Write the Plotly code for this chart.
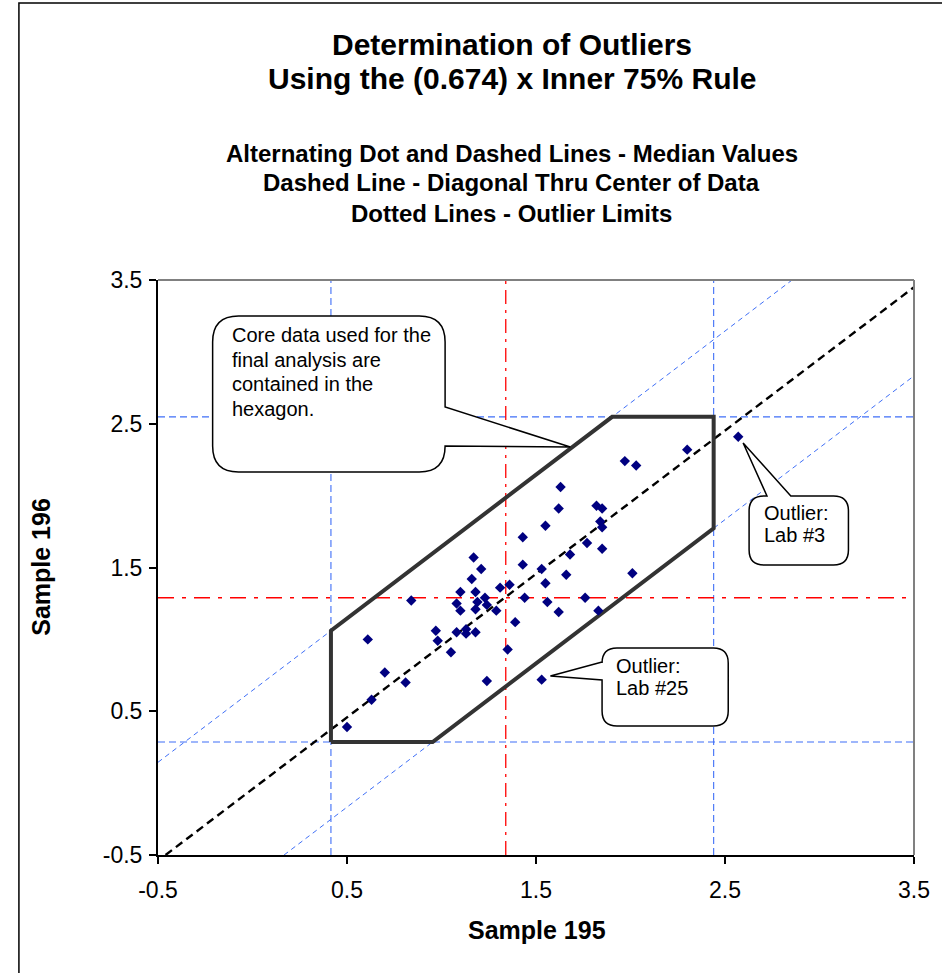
import plotly.graph_objects as go

# ---------------- data ----------------
sample195 = [2.57, 2.30, 1.97, 2.03, 1.63, 1.62, 1.82, 1.85, 1.55, 1.84,
             1.85, 1.43, 1.77, 1.85, 1.68, 1.17, 1.21, 1.43, 1.53, 1.66,
             2.01, 1.16, 1.55, 1.36, 1.31, 1.10, 1.18, 0.84, 1.23, 1.44,
             1.56, 1.76, 1.08, 1.19, 1.24, 1.18, 1.10, 1.29, 1.62, 1.83,
             1.39, 0.97, 1.08, 1.13, 1.13, 1.18, 0.61, 0.98, 1.35, 1.05,
             0.70, 0.81, 1.24, 1.53, 0.63, 0.50]
sample196 = [2.41, 2.32, 2.24, 2.21, 2.06, 1.91, 1.93, 1.91, 1.79, 1.82,
             1.78, 1.71, 1.67, 1.63, 1.59, 1.57, 1.49, 1.52, 1.49, 1.45,
             1.46, 1.42, 1.39, 1.38, 1.36, 1.33, 1.33, 1.27, 1.29, 1.29,
             1.26, 1.29, 1.25, 1.26, 1.24, 1.21, 1.20, 1.20, 1.19, 1.20,
             1.12, 1.06, 1.05, 1.07, 1.04, 1.05, 1.00, 0.99, 0.93, 0.91,
             0.77, 0.70, 0.71, 0.72, 0.58, 0.39]

median_x = 1.34
median_y = 1.29
x_limits = [0.415, 2.44]
y_limits = [0.286, 2.548]

diag_x = [-0.46, 3.53]
diag_y = [-0.50, 3.48]
upper_limit_x = [-0.50, 2.855]
upper_limit_y = [0.145, 3.50]
lower_limit_x = [0.167, 3.55]
lower_limit_y = [-0.50, 2.883]

hexagon_x = [0.415, 0.415, 1.903, 2.44, 2.44, 0.953, 0.415]
hexagon_y = [0.286, 1.060, 2.548, 2.548, 1.773, 0.286, 0.286]

axis_range = [-0.5, 3.5]
tick_vals = [-0.5, 0.5, 1.5, 2.5, 3.5]
tick_text = ["-0.5", "0.5", "1.5", "2.5", "3.5"]

# ---------------- layout geometry ----------------
W, H = 942, 973
ML, MR, MT, MB = 158, 23, 280, 118
PW = W - ML - MR
PH = H - MT - MB


def px(x):
    return (x - ML) / PW


def py(y):
    return (H - MB - y) / PH


FONT = "Liberation Sans, Arial, Helvetica, sans-serif"
BLUE = "#3f6ff7"

fig = go.Figure()

# outlier limit verticals / horizontals
for xv in x_limits:
    fig.add_trace(go.Scatter(x=[xv, xv], y=axis_range, mode="lines",
                             line=dict(color=BLUE, width=1.1, dash="7px,4px"),
                             hoverinfo="skip", showlegend=False))
for yv in y_limits:
    fig.add_trace(go.Scatter(x=axis_range, y=[yv, yv], mode="lines",
                             line=dict(color=BLUE, width=1.1, dash="7px,4px"),
                             hoverinfo="skip", showlegend=False))
# diagonal limit lines
fig.add_trace(go.Scatter(x=upper_limit_x, y=upper_limit_y, mode="lines",
                         line=dict(color=BLUE, width=1, dash="5px,4px"),
                         hoverinfo="skip", showlegend=False))
fig.add_trace(go.Scatter(x=lower_limit_x, y=lower_limit_y, mode="lines",
                         line=dict(color=BLUE, width=1, dash="5px,4px"),
                         hoverinfo="skip", showlegend=False))
# median lines
fig.add_trace(go.Scatter(x=[median_x, median_x], y=axis_range, mode="lines",
                         line=dict(color="#ff0000", width=1.3, dash="14px,6px,3px,6px"),
                         hoverinfo="skip", showlegend=False))
fig.add_trace(go.Scatter(x=axis_range, y=[median_y, median_y], mode="lines",
                         line=dict(color="#ff0000", width=1.4, dash="16px,8px,4px,8px"),
                         hoverinfo="skip", showlegend=False))
# diagonal through centre
fig.add_trace(go.Scatter(x=diag_x, y=diag_y, mode="lines",
                         line=dict(color="black", width=2.4, dash="8px,5px"),
                         hoverinfo="skip", showlegend=False))
# hexagon
fig.add_trace(go.Scatter(x=hexagon_x, y=hexagon_y, mode="lines",
                         line=dict(color="#333333", width=4),
                         hoverinfo="skip", showlegend=False))
# data
fig.add_trace(go.Scatter(x=sample195, y=sample196, mode="markers",
                         marker=dict(symbol="diamond", size=8, color="#000080",
                                     line=dict(width=0)),
                         showlegend=False))


def callout(x0, y0, x1, y1, r, side, b1, b2, tip):
    """Rounded rectangle with a pointer; coordinates in pixels -> paper."""
    pts = []

    def M(x, y):
        pts.append(f"M{px(x):.5f},{py(y):.5f}")

    def L(x, y):
        pts.append(f"L{px(x):.5f},{py(y):.5f}")

    def Q(cx, cy, x, y):
        pts.append(f"Q{px(cx):.5f},{py(cy):.5f} {px(x):.5f},{py(y):.5f}")

    M(x0 + r, y0)
    if side == "top":
        L(b1, y0); L(*tip); L(b2, y0)
    L(x1 - r, y0)
    Q(x1, y0, x1, y0 + r)
    if side == "right":
        L(x1, b1); L(*tip); L(x1, b2)
    L(x1, y1 - r)
    Q(x1, y1, x1 - r, y1)
    L(x0 + r, y1)
    Q(x0, y1, x0, y1 - r)
    if side == "left":
        L(x0, b2); L(*tip); L(x0, b1)
    L(x0, y0 + r)
    Q(x0, y0, x0 + r, y0)
    pts.append("Z")
    return dict(type="path", xref="paper", yref="paper", path=" ".join(pts),
                fillcolor="white", line=dict(color="black", width=1.5),
                layer="above")


shapes = [
    # plot-area top and right border
    dict(type="line", xref="paper", yref="paper", x0=0, y0=1, x1=1, y1=1,
         line=dict(color="#808080", width=2), layer="above"),
    dict(type="line", xref="paper", yref="paper", x0=1, y0=0, x1=1, y1=1,
         line=dict(color="#808080", width=2), layer="above"),
    # chart frame
    dict(type="rect", xref="paper", yref="paper", x0=px(18), y0=py(3),
         x1=px(960), y1=py(990), line=dict(color="black", width=1.5),
         fillcolor="rgba(0,0,0,0)", layer="above"),
    callout(213, 316, 447, 472, 26, "right", 407, 446, (573, 447)),
    callout(605, 648, 732, 726, 15, "left", 662, 680, (553, 676)),
    callout(753, 496, 853, 565, 15, "top", 771, 795, (747, 443)),
]

annotations = [
    dict(text="<b>Determination of Outliers</b>", x=px(514), y=py(45)),
    dict(text="<b>Using the (0.674) x Inner 75% Rule</b>", x=px(514), y=py(79)),
]
for t in annotations:
    t.update(xref="paper", yref="paper", showarrow=False, xanchor="center",
             yanchor="middle", font=dict(family=FONT, size=30, color="black"))

subs = ["Alternating Dot and Dashed Lines - Median Values",
        "Dashed Line - Diagonal Thru Center of Data",
        "Dotted Lines - Outlier Limits"]
for s, yy in zip(subs, [153, 183, 213]):
    annotations.append(dict(text=f"<b>{s}</b>", x=px(514), y=py(yy), xref="paper",
                            yref="paper", showarrow=False, xanchor="center",
                            yanchor="middle",
                            font=dict(family=FONT, size=24, color="black")))

annotations.append(dict(text="<b>Sample 195</b>", x=px(540), y=py(930), xref="paper",
                        yref="paper", showarrow=False, xanchor="center", yanchor="middle",
                        font=dict(family=FONT, size=25, color="black")))
annotations.append(dict(text="<b>Sample 196</b>", x=px(40), y=py(567), xref="paper",
                        yref="paper", showarrow=False, xanchor="center", yanchor="middle",
                        textangle=-90, font=dict(family=FONT, size=25, color="black")))

callout_texts = [
    (["Core data used for the", "final analysis are", "contained in the", "hexagon."],
     230, [335, 360, 384, 409]),
    (["Outlier:", "Lab #25"], 617, [666, 688]),
    (["Outlier:", "Lab #3"], 766, [513, 535]),
]
for lines, x0, ys in callout_texts:
    for line, yy in zip(lines, ys):
        annotations.append(dict(text=line, x=px(x0), y=py(yy), xref="paper",
                                yref="paper", showarrow=False, xanchor="left",
                                yanchor="middle",
                                font=dict(family=FONT, size=20, color="black")))

axis_common = dict(range=axis_range, tickvals=tick_vals, ticktext=tick_text,
                   showgrid=False, zeroline=False, showline=True, linecolor="black",
                   linewidth=2, ticks="outside", ticklen=7, tickwidth=1.5,
                   tickcolor="black", tickfont=dict(family=FONT, size=23, color="black"))

fig.update_layout(
    width=W, height=H,
    margin=dict(l=ML, r=MR, t=MT, b=MB, pad=0),
    paper_bgcolor="white", plot_bgcolor="white",
    xaxis=dict(axis_common, ticklabelstandoff=6),
    yaxis=dict(axis_common, ticklabelstandoff=2),
    shapes=shapes, annotations=annotations, showlegend=False,
)

fig.write_html("out.html")
